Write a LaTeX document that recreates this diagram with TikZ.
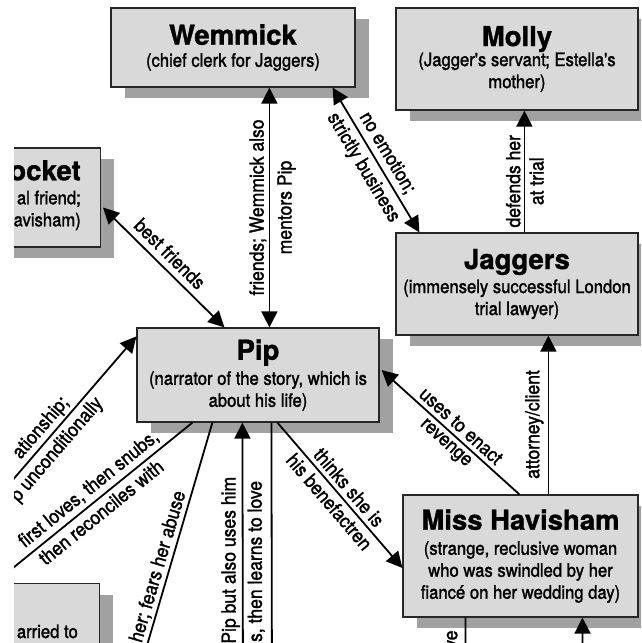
\documentclass[tikz,border=0pt]{standalone}
\usepackage{fontspec}
\setmainfont{TeX Gyre Heros}
\newfontfamily\narrowfont[FakeStretch=0.9, UprightFeatures={FakeBold=1.5}]{TeX Gyre Heros}
\newfontfamily\titlefont[BoldFeatures={FakeBold=1.2}]{TeX Gyre Heros}
\usetikzlibrary{arrows.meta,shadows,calc}
\definecolor{boxgray}{gray}{0.85}
\definecolor{shadegray}{gray}{0.63}
\newcommand{\Who}[1]{{\titlefont\fontsize{27.5}{29}\selectfont\bfseries #1}}

\begin{document}
\begin{tikzpicture}[x=1pt,y=1pt]
	\tikzstyle{boxs} = [draw=black!85, line width=1.2pt, fill=boxgray, align=center, inner sep=0pt,
		font=\narrowfont\fontsize{18.5}{22}\selectfont, %text width=4em,
		drop shadow={shadow xshift=14pt, shadow yshift=-11pt, fill=shadegray, opacity=1}]
	\tikzstyle{cut} = [inner sep=0pt, font=\narrowfont\fontsize{18.5}{22}\selectfont]
	\tikzstyle{lbl} = [font=\narrowfont\fontsize{19.5}{22}\selectfont, sloped, allow upside down, inner sep=2pt]
	\tikzstyle{line} = [draw, line width=1.8pt, -{Triangle[length=16pt,width=16pt]}]
	\tikzstyle{lineR} = [draw, line width=1.8pt, {Triangle[length=16pt,width=16pt]}-]
	\tikzstyle{lineB} = [draw, line width=1.8pt, {Triangle[length=16pt,width=16pt]}-{Triangle[length=16pt,width=16pt]}]

	\useasboundingbox (0,0) rectangle (641,-643);
	\begin{scope}
	\clip (14,0) rectangle (641,-643);

	\node(Wemmick)[boxs, minimum width=244pt, minimum height=79pt] at (233,-47.5) {\Who{Wemmick}\\(chief clerk for Jaggers)};
	\node(Molly)[boxs, minimum width=242pt, minimum height=102pt] at (517,-59) {\Who{Molly}\\[-2pt](Jagger's servant; Estella's\\mother)};
	\tikzset{node distance = 225pt}
	\node(Jaggers)[boxs, minimum width=242pt, minimum height=102pt, below of = Molly] {\Who{Jaggers}\\[2pt](immensely successful London\\trial lawyer)};
	\node(Pip)[boxs, minimum width=242pt, minimum height=94pt] at (258,-375) {\Who{Pip}\\[3pt](narrator of the story, which is\\about his life)};
	\node(Havisham)[boxs, minimum width=235pt, minimum height=122pt] at (520.5,-556) {\Who{Miss Havisham}\\[3pt](strange, reclusive woman\\who was swindled by her\\fiancé on her wedding day)};

	% boxes cut by the left edge
	\node(Pocket)[boxs, minimum width=242pt, minimum height=99pt, anchor=east] at (101,-197.5) {};
	\node(PocketText)[cut, align=right, anchor=north east] at (81,-160) {\Who{ocket}\\[2pt]al friend;\\avisham)};
	\node(Estella)[boxs, minimum width=210pt, minimum height=120pt, anchor=north east] at (100,-583) {};
	\node(EstellaText)[cut, anchor=base east] at (78,-638) {arried to};

	\coordinate (WemS) at ($(Wemmick.south east)+(-23,0)$);
	\coordinate (JagN1) at ($(Jaggers.north west)+(24,0)$);
	\coordinate (JagN2) at ($(Jaggers.north west)+(129,0)$);
	\coordinate (PocketE) at ($(Pocket.east)+(2,-10)$);
	\coordinate (PipN1) at ($(Pip.north west)+(88,0)$);
	\coordinate (PipN2) at ($(Pip.north west)+(133,0)$);
	\coordinate (PipW) at ($(Pip.north west)+(0,-9)$);
	\coordinate (PipE) at ($(Pip.east)+(2,5)$);
	\coordinate (PipS1) at ($(Pip.south west)+(56,0)$);
	\coordinate (PipS2) at ($(Pip.south west)+(76,0)$);
	\coordinate (PipS3) at ($(Pip.south west)+(106,0)$);
	\coordinate (PipS4) at ($(Pip.south west)+(135,0)$);
	\coordinate (PipS5) at ($(Pip.south west)+(141,0)$);
	\coordinate (HavN1) at ($(Havisham.north west)+(117,0)$);
	\coordinate (HavN2) at ($(Havisham.north west)+(146,0)$);
	\coordinate (HavW) at ($(Havisham.west)+(0,-12)$);
	\coordinate (HavS1) at ($(Havisham.south west)+(63,0)$);
	\coordinate (HavS2) at ($(Havisham.south west)+(180,0)$);
	% far ends outside the picture
	\coordinate (JoeEnd) at (-20,-518);
	\coordinate (AbuseEnd) at (131,-700);
	\coordinate (MagEnd) at (243,-700);
	\coordinate (BiddyEnd) at (272,-700);
	\coordinate (HavEnd1) at (466,-700);
	\coordinate (HavEnd2) at (583,-700);

	\draw[lineB] (PipN2) -- node[lbl, above=0pt]{friends; Wemmick also} node[lbl, below=5pt]{mentors Pip} (PipN2 |- Wemmick.south);
	\draw[lineB] (WemS) -- node[lbl, above=2pt]{no emotion;} node[lbl, below=3pt]{strictly business} (JagN1);
	\draw[line] (JagN2) -- node[lbl, above=1pt, pos=0.42]{defends her} node[lbl, below=2pt, pos=0.42]{at trial} (JagN2 |- Molly.south);
	\draw[lineB] (PocketE) -- node[lbl, above=4pt, pos=0.47]{best friends} (PipN1);
	\draw[lineR] (PipE) -- node[lbl, above=2pt, pos=0.52]{uses to enact} node[lbl, below=2pt, pos=0.52]{revenge} (HavN1);
	\draw[line] (PipS5) -- node[lbl, above=2pt, pos=0.5]{thinks she is} node[lbl, below=2pt, pos=0.49]{his benefactren} (HavW);
	\draw[line] (HavN2) -- node[lbl, above=2pt, pos=0.44]{attorney/client} (HavN2 |- Jaggers.south);
	\draw[line] (JoeEnd) -- node[lbl, pos=0.62, anchor=south east]{ationship;} node[lbl, pos=0.71, anchor=north east, yshift=-2pt]{p unconditionally} (PipW);
	\draw[lineR] (Estella.north) -- node[lbl, above=2pt, pos=0.52]{first loves, then snubs,} node[lbl, below=2pt, pos=0.50]{then reconciles with} (PipS1);
	\draw[lineR] (AbuseEnd) -- node[lbl, pos=0.75, anchor=south east]{her; fears her abuse} (PipS2);
	\draw[line] (MagEnd) -- node[lbl, pos=0.815, anchor=south east]{Pip but also uses him} node[lbl, pos=0.80, anchor=north east, yshift=-2pt]{s, then learns to love} (PipS3);
	\draw[lineR] (BiddyEnd) -- (PipS4);
	\draw[lineR] (HavEnd1) -- node[lbl, pos=0.88, anchor=south east, yshift=5pt]{ve} (HavS1);
	\draw[line] (HavEnd2) -- (HavS2);
	\end{scope}
\end{tikzpicture}
\end{document}
